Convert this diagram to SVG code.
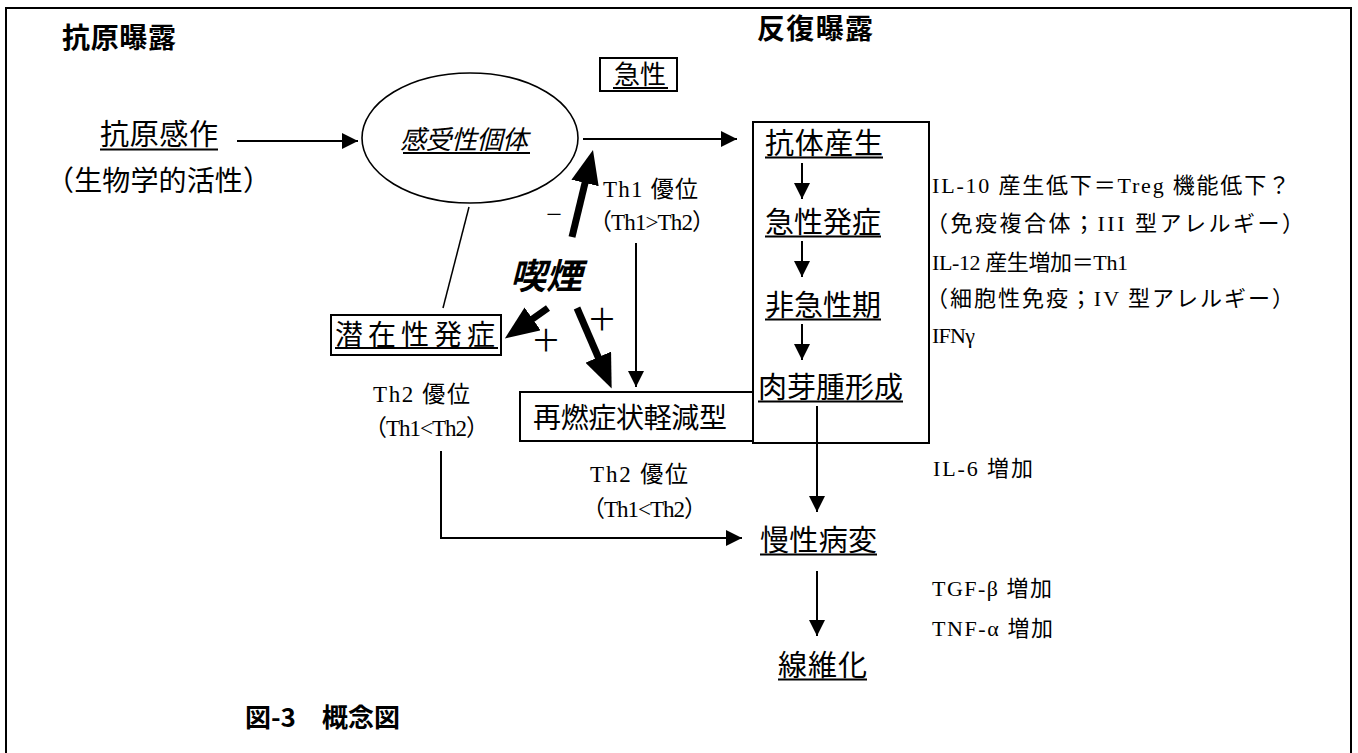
<svg xmlns="http://www.w3.org/2000/svg" width="1358" height="753" viewBox="0 0 1358 753">
<style>
.jp{font-family:"Noto Sans CJK JP",sans-serif;fill:#000}
.mx{font-family:"Liberation Serif","Noto Sans CJK JP",serif;fill:#000}
.hd{font-family:"Noto Sans CJK JP",sans-serif;font-weight:bold;fill:#000}
.box{fill:none;stroke:#000;stroke-width:2}
.ul{stroke:#000;stroke-width:2}
.cn{fill:none;stroke:#000;stroke-width:2}
.thick{fill:none;stroke:#000;stroke-width:7}
</style>
<defs>
<marker id="ah" markerUnits="userSpaceOnUse" markerWidth="17" markerHeight="16" refX="16" refY="8" orient="auto"><path d="M0,0 L16,8 L0,16 z" fill="#000"/></marker>
<marker id="ahb" markerUnits="userSpaceOnUse" markerWidth="35" markerHeight="28" refX="2" refY="14" orient="auto"><path d="M0,0 L34,14 L0,28 z" fill="#000"/></marker>
</defs>
<rect width="1358" height="753" fill="#fff"/>
<rect x="6" y="8" width="1345" height="770" class="box"/>

<g id="title-left"><text x="62" y="48" class="hd" font-size="28" textLength="114">抗原曝露</text></g>
<g id="title-right"><text x="757" y="39" class="hd" font-size="28" textLength="116">反復曝露</text></g>

<g id="acute"><rect x="600" y="58" width="77" height="33" class="box"/><text x="614" y="84" class="jp" font-size="26">急性</text><line x1="613" y1="88" x2="668" y2="88" class="ul"/></g>

<g id="sensitization"><text x="100" y="145" class="jp" font-size="29" textLength="118">抗原感作</text><line x1="100" y1="149.5" x2="218" y2="149.5" class="ul"/>
<text x="46" y="191" class="jp" font-size="28" textLength="225">（生物学的活性）</text></g>

<g id="susceptible"><ellipse cx="470" cy="138" rx="108" ry="65" fill="none" stroke="#000" stroke-width="1.6"/><text x="400" y="149" class="jp" font-size="26" font-style="italic" textLength="128">感受性個体</text><line x1="403" y1="153" x2="530" y2="153" class="ul"/></g>

<g id="latent"><rect x="331" y="315" width="170" height="40" class="box"/><text x="335" y="345" class="jp" font-size="28" letter-spacing="5">潜在性発症</text><line x1="335" y1="348" x2="498" y2="348" class="ul"/></g>

<g id="smoking"><text x="510" y="289" class="jp" font-size="36" font-weight="bold" font-style="italic" textLength="72">喫煙</text></g>

<g id="relapse"><rect x="520" y="392" width="233" height="49" class="box"/><text x="533" y="428" class="jp" font-size="28" textLength="194">再燃症状軽減型</text></g>

<g id="repeated-box"><rect x="753" y="122" width="176" height="321" class="box"/>
<text x="765" y="154" class="jp" font-size="29" textLength="118">抗体産生</text><line x1="765" y1="157.5" x2="883" y2="157.5" class="ul"/>
<text x="765" y="233" class="jp" font-size="29" textLength="116">急性発症</text><line x1="765" y1="236.5" x2="881" y2="236.5" class="ul"/>
<text x="765" y="316" class="jp" font-size="29" textLength="116">非急性期</text><line x1="765" y1="319.5" x2="881" y2="319.5" class="ul"/>
<text x="758" y="398" class="jp" font-size="29" textLength="145">肉芽腫形成</text><line x1="758" y1="401.5" x2="903" y2="401.5" class="ul"/></g>

<g id="chronic"><text x="760" y="551" class="jp" font-size="29" textLength="117">慢性病変</text><line x1="760" y1="554.5" x2="877" y2="554.5" class="ul"/></g>
<g id="fibrosis"><text x="778" y="676" class="jp" font-size="29" textLength="89">線維化</text><line x1="778" y1="679.5" x2="867" y2="679.5" class="ul"/></g>

<g id="th-labels">
<text x="603" y="197" class="mx" font-size="23" textLength="95">Th1 優位</text>
<text x="589" y="230" class="mx" font-size="23" textLength="126">（Th1&gt;Th2）</text>
<text x="373" y="402" class="mx" font-size="23" textLength="97">Th2 優位</text>
<text x="364" y="436" class="mx" font-size="23" textLength="125">（Th1&lt;Th2）</text>
<text x="590" y="482" class="mx" font-size="23" textLength="98">Th2 優位</text>
<text x="582" y="517" class="mx" font-size="23" textLength="125">（Th1&lt;Th2）</text>
<text x="554" y="221" class="jp" font-size="18" text-anchor="middle">－</text>
<text x="546" y="351" class="jp" font-size="30" text-anchor="middle">＋</text>
<text x="602" y="330" class="jp" font-size="30" text-anchor="middle">＋</text>
</g>

<g id="cytokines">
<text x="932" y="193" class="mx" font-size="22" textLength="358">IL-10 産生低下＝Treg 機能低下？</text>
<text x="926" y="231" class="mx" font-size="22" textLength="378">（免疫複合体；III 型アレルギー）</text>
<text x="932" y="270" class="mx" font-size="22" textLength="196">IL-12 産生増加＝Th1</text>
<text x="926" y="306" class="mx" font-size="22" textLength="368">（細胞性免疫；IV 型アレルギー）</text>
<text x="932" y="343" class="mx" font-size="22" textLength="43">IFNγ</text>
<text x="933" y="476" class="mx" font-size="22" textLength="100">IL-6 増加</text>
<text x="932" y="596" class="mx" font-size="22" textLength="120">TGF-β 増加</text>
<text x="932" y="636" class="mx" font-size="22" textLength="121">TNF-α 増加</text>
</g>

<g id="caption"><text x="245" y="727" class="hd" font-size="26">図-3　概念図</text></g>

<g id="connectors">
<line x1="237" y1="141" x2="358" y2="141" class="cn" marker-end="url(#ah)"/>
<line x1="583" y1="139" x2="737" y2="139" class="cn" marker-end="url(#ah)"/>
<line x1="802" y1="163" x2="802" y2="199" class="cn" marker-end="url(#ah)"/>
<line x1="802" y1="241" x2="802" y2="277" class="cn" marker-end="url(#ah)"/>
<line x1="802" y1="324" x2="802" y2="360" class="cn" marker-end="url(#ah)"/>
<line x1="636" y1="243" x2="636" y2="387" class="cn" marker-end="url(#ah)"/>
<line x1="817" y1="406" x2="817" y2="512" class="cn" marker-end="url(#ah)"/>
<line x1="817" y1="571" x2="817" y2="636" class="cn" marker-end="url(#ah)"/>
<polyline points="441,451 441,538 742,538" class="cn" marker-end="url(#ah)"/>
<line x1="469" y1="207" x2="443" y2="308" fill="none" stroke="#000" stroke-width="1.5"/>
<line x1="572" y1="237" x2="585.5" y2="181" class="thick" marker-end="url(#ahb)"/>
<line x1="548" y1="308" x2="531" y2="320" class="thick" marker-end="url(#ahb)"/>
<line x1="577" y1="308" x2="599" y2="359" class="thick" marker-end="url(#ahb)"/>
</g>
</svg>
